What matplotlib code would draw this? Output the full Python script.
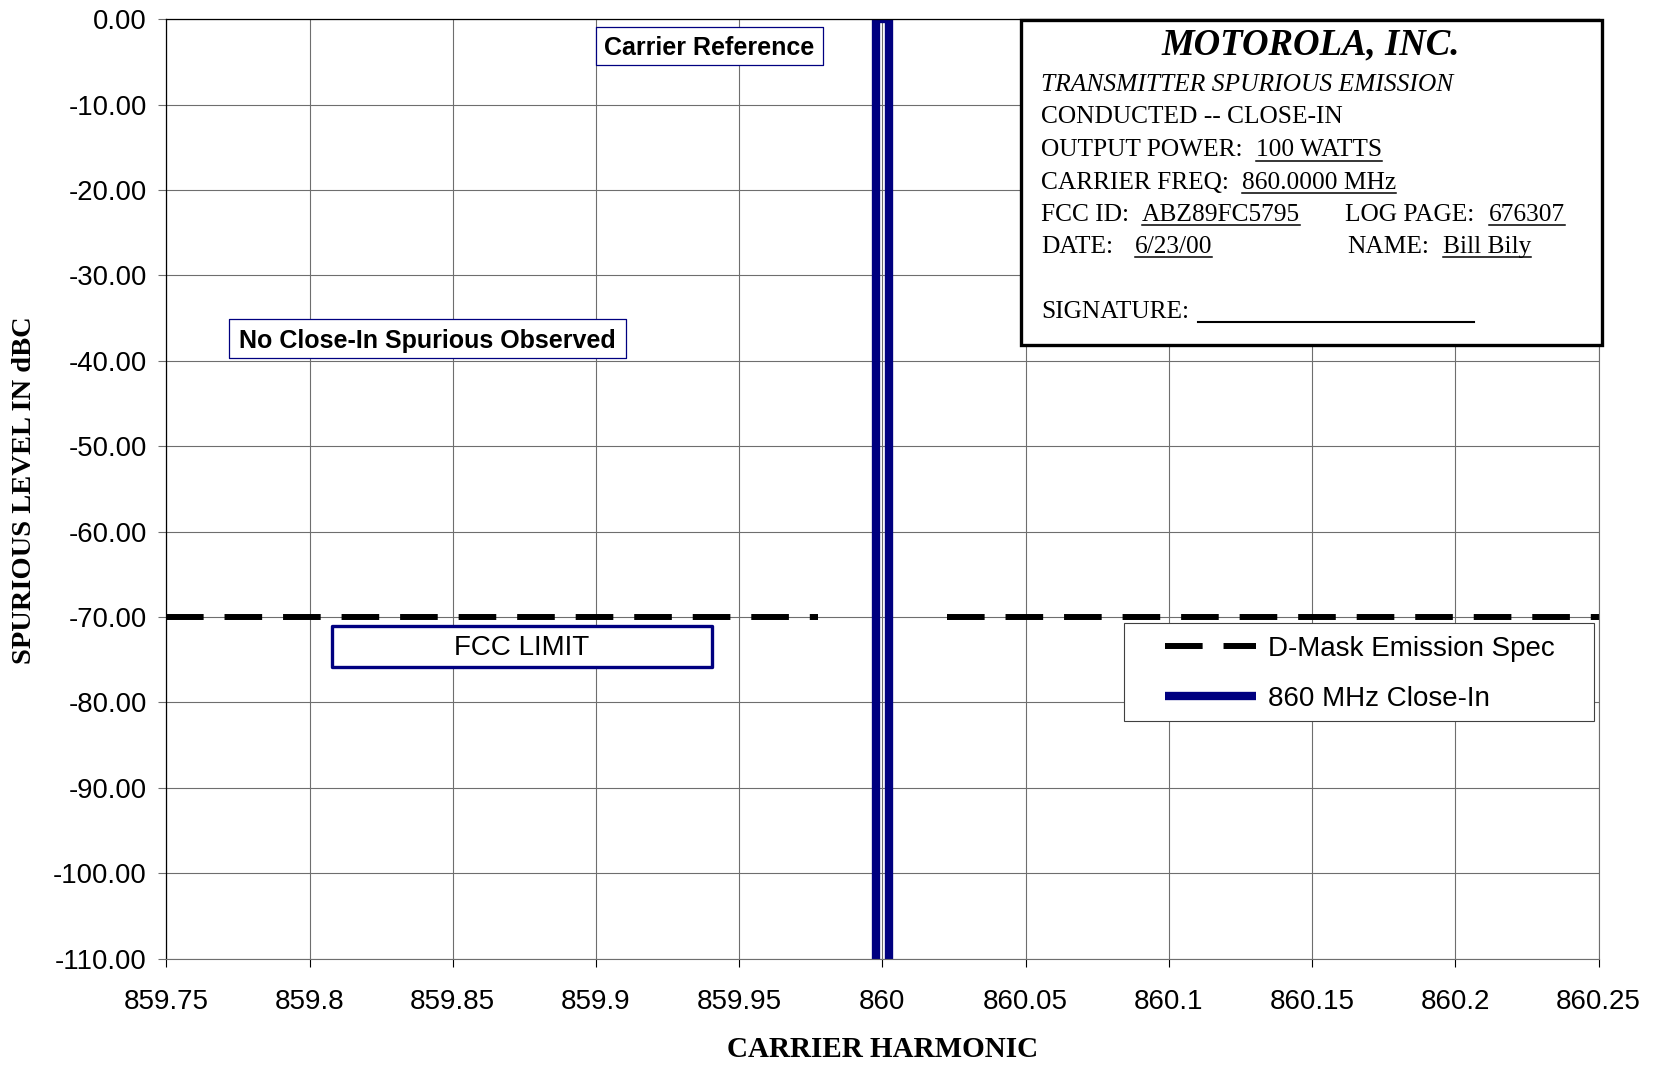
import numpy as np
import matplotlib
matplotlib.use("Agg")
import matplotlib.pyplot as plt
import matplotlib.transforms as mtransforms
from matplotlib.patches import Rectangle
from matplotlib.lines import Line2D

W, H = 1661, 1065
SANS = "Liberation Sans"
SERIF = "Liberation Serif"
NAVY = "#000080"
GRID = "#6e6e6e"

# D-Mask emission spec, interrupted around the carrier
dmask_freq = [859.75, 859.9775, np.nan, 860.0225, 860.25]
dmask_level = [-70.0, -70.0, np.nan, -70.0, -70.0]

# 860 MHz close-in trace: only the carrier itself rises off the floor
carrier_freq = [859.9977, 859.9977, 860.0023, 860.0023]
carrier_level = [-110.0, 0.0, 0.0, -110.0]

freq_ticks = [859.75, 859.8, 859.85, 859.9, 859.95, 860.0,
              860.05, 860.1, 860.15, 860.2, 860.25]
freq_labels = ["859.75", "859.8", "859.85", "859.9", "859.95", "860",
               "860.05", "860.1", "860.15", "860.2", "860.25"]
level_ticks = [0, -10, -20, -30, -40, -50, -60, -70, -80, -90, -100, -110]

# note boxes: (text, x0, x1, y_top, y_bottom, bold, border width)
notes = [
    ("Carrier Reference", 859.9000, 859.9793, -0.9, -5.4, True, 0.9),
    ("No Close-In Spurious Observed", 859.7719, 859.9105, -35.1, -39.7, True, 0.9),
    ("FCC LIMIT", 859.8078, 859.9405, -71.0, -75.8, False, 2.4),
]

fig = plt.figure(figsize=(W / 100, H / 100), dpi=100)
ax = fig.add_axes([166.3 / W, 1 - 958.7 / H, (1598.5 - 166.3) / W, (958.7 - 19.1) / H])

# pixel positions measured from the top-left corner of the figure
px = mtransforms.Affine2D().scale(1 / W, -1 / H).translate(0, 1) + fig.transFigure

ax.plot(dmask_freq, dmask_level, color="black", lw=4.3, dashes=(6.3, 3.5),
        solid_capstyle="butt", dash_capstyle="butt", zorder=2)
ax.plot(carrier_freq, carrier_level, color=NAVY, lw=6.0,
        solid_joinstyle="miter", solid_capstyle="butt", zorder=2)

ax.set_xlim(859.75, 860.25)
ax.set_ylim(-110, 0)
ax.set_xticks(freq_ticks)
ax.set_xticklabels(freq_labels, fontfamily=SANS, fontsize=20)
ax.set_yticks(level_ticks)
ax.set_yticklabels(["%.2f" % v for v in level_ticks], fontfamily=SANS, fontsize=19.8)
ax.tick_params(axis="x", direction="out", length=6, width=0.8, color="black", pad=15.5)
ax.tick_params(axis="y", direction="out", length=6, width=0.8, color=GRID, pad=8)
ax.grid(True, color=GRID, lw=0.8)
for side in ("left", "top"):
    ax.spines[side].set_color("black")
    ax.spines[side].set_linewidth(0.9)
for side in ("bottom", "right"):
    ax.spines[side].set_color(GRID)
    ax.spines[side].set_linewidth(0.8)

for text, x0, x1, y_top, y_bot, bold, edge_w in notes:
    ax.add_patch(Rectangle((x0, y_bot), x1 - x0, y_top - y_bot, facecolor="white",
                           edgecolor=NAVY, lw=edge_w, joinstyle="round", zorder=3))
    ax.text((x0 + x1) / 2, (y_top + y_bot) / 2 - 0.25, text, ha="center", va="center",
            fontfamily=SANS, fontsize=18 if bold else 20,
            fontweight="bold" if bold else "normal", zorder=4)

fig.text(882.4, 1049.5, "CARRIER HARMONIC", transform=px, ha="center", va="center",
         fontfamily=SERIF, fontweight="bold", fontsize=21)
fig.text(25, 490.5, "SPURIOUS LEVEL IN dBC", transform=px, ha="center", va="center",
         rotation=90, fontfamily=SERIF, fontweight="bold", fontsize=20.5)

# legend with its own frame
fig.add_artist(Rectangle((1124, 721), 470.3, -98.3, transform=px, facecolor="white",
                         edgecolor="#404040", lw=0.8, zorder=2))
handles = [Line2D([], [], color="black", lw=4.3, dashes=(6.3, 3.5), dash_capstyle="butt"),
           Line2D([], [], color=NAVY, lw=6.0, solid_capstyle="butt")]
fig.legend(handles, ["D-Mask Emission Spec", "860 MHz Close-In"], loc="center",
           bbox_to_anchor=(1359.5, 674), bbox_transform=px, frameon=False,
           prop={"family": SANS, "size": 20}, handlelength=3.3, handletextpad=0.4,
           labelspacing=0.85, borderpad=0.2)

# test record block
fig.add_artist(Rectangle((1021, 345), 580.5, -325, transform=px, facecolor="white",
                         edgecolor="black", lw=2.4, zorder=2))
fig.text(1311, 54, "MOTOROLA, INC.", transform=px, ha="center", va="baseline",
         fontfamily=SERIF, fontweight="bold", fontstyle="italic", fontsize=26.5, zorder=3)
fig.text(1041, 91, "TRANSMITTER SPURIOUS EMISSION", transform=px, va="baseline",
         fontfamily=SERIF, fontstyle="italic", fontsize=18.4, zorder=3)

plain_lines = [
    (1041, 123, "CONDUCTED -- CLOSE-IN"),
    (1041, 156.5, "OUTPUT POWER:"),
    (1041, 189, "CARRIER FREQ:"),
    (1041, 221, "FCC ID:"),
    (1345, 221, "LOG PAGE:"),
    (1041, 253, "DATE:"),
    (1347, 253, "NAME:"),
    (1041, 317.5, "SIGNATURE:"),
]
value_lines = [
    (1256, 156.5, "100 WATTS"),
    (1241.5, 189, "860.0000 MHz"),
    (1142, 221, "ABZ89FC5795"),
    (1489, 221, "676307"),
    (1134.5, 253, "6/23/00"),
    (1443, 253, "Bill Bily"),
]
for x, y, s in plain_lines:
    fig.text(x, y, s, transform=px, va="baseline", fontfamily=SERIF, fontsize=18.3, zorder=3)
values = [fig.text(x, y, s, transform=px, va="baseline", fontfamily=SERIF,
                   fontsize=18.3, zorder=3) for x, y, s in value_lines]

fig.add_artist(Line2D([1198, 1473.5], [321.5, 321.5], transform=px, color="black",
                      lw=1.5, zorder=3))

# underline the filled-in values
fig.canvas.draw()
renderer = fig.canvas.get_renderer()
for t, (x, y, s) in zip(values, value_lines):
    bb = t.get_window_extent(renderer)
    yl = H - (y + 4)
    fig.add_artist(Line2D([bb.x0, bb.x1], [yl, yl], transform=mtransforms.IdentityTransform(),
                          color="black", lw=1.1, zorder=3))

fig.savefig("out.png", dpi=100)
